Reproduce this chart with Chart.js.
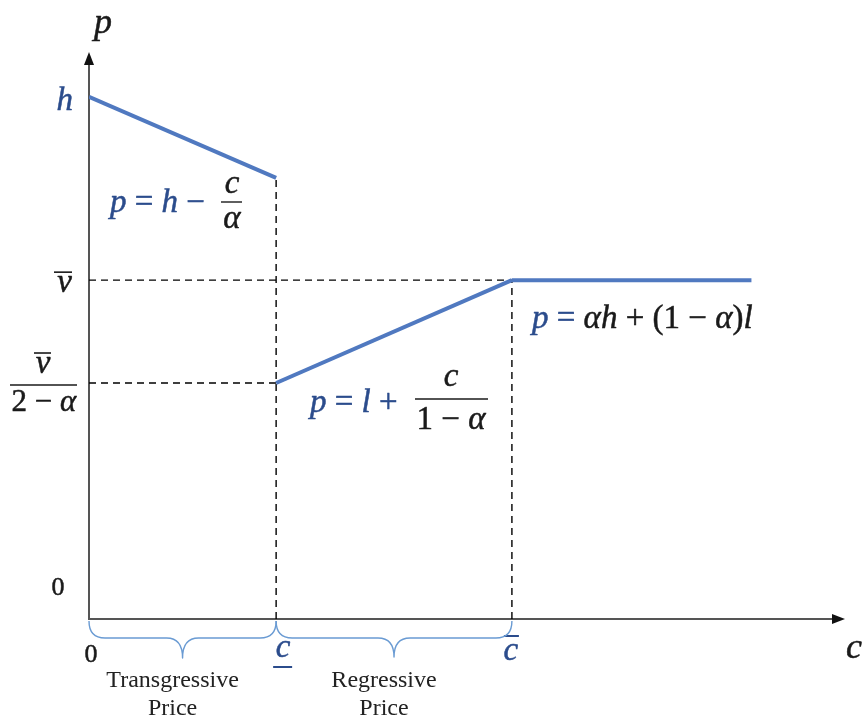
<!DOCTYPE html>
<html>
<head>
<meta charset="utf-8">
<script src="https://cdn.jsdelivr.net/npm/chart.js@4.4.1/dist/chart.umd.min.js"></script>
<style>
  html, body { margin: 0; padding: 0; background: #ffffff; }
  #wrap { width: 863px; height: 717px; }
</style>
</head>
<body>
<div id="wrap"><canvas id="chart" width="863" height="717"></canvas></div>
<script>
// Horizontal positions on the c axis
const cMarks = { zero: 0, cLow: 1.0, cHigh: 2.26, cEnd: 3.54, cAxisMax: 4.04 };
// Vertical positions on the p axis
const pMarks = { h: 10, hKink: 8.45, vBar: 6.49, vBarFrac: 4.52, pAxisMax: 10.86 };

// Price segments
const transgressiveX = [cMarks.zero, cMarks.cLow];
const transgressiveY = [pMarks.h, pMarks.hKink];
const regressiveX = [cMarks.cLow, cMarks.cHigh];
const regressiveY = [pMarks.vBarFrac, pMarks.vBar];
const flatX = [cMarks.cHigh, cMarks.cEnd];
const flatY = [pMarks.vBar, pMarks.vBar];

// Dashed guide lines
const guideVLowX = [cMarks.cLow, cMarks.cLow];
const guideVLowY = [0, pMarks.hKink];
const guideVHighX = [cMarks.cHigh, cMarks.cHigh];
const guideVHighY = [0, pMarks.vBar];
const guideHTopX = [0, cMarks.cHigh];
const guideHTopY = [pMarks.vBar, pMarks.vBar];
const guideHLowX = [0, cMarks.cLow];
const guideHLowY = [pMarks.vBarFrac, pMarks.vBarFrac];

const LINE_BLUE = '#5079C0';
const TEXT_BLUE = '#2B4C8C';
const BRACE_BLUE = '#6A9BD3';
const MATH = '"Liberation Serif", "DejaVu Serif", serif';

function pts(xs, ys) { return xs.map((x, i) => ({ x, y: ys[i] })); }

function segment(xs, ys) {
  return { data: pts(xs, ys), borderColor: LINE_BLUE, borderWidth: 4, pointRadius: 0,
           showLine: true, fill: false, borderCapStyle: 'butt', order: 1 };
}
function guide(xs, ys) {
  return { data: pts(xs, ys), borderColor: '#000000', borderWidth: 1.4, borderDash: [7, 5],
           pointRadius: 0, showLine: true, fill: false, order: 2 };
}

// Draw a run of text pieces with individual colors/styles
function runWidth(ctx, runs, size) {
  let w = 0;
  runs.forEach(r => { ctx.font = (r.it ? 'italic ' : '') + size + 'px ' + MATH; w += ctx.measureText(r.t).width; });
  return w;
}
function drawRuns(ctx, x, y, runs, size, align) {
  const w = runWidth(ctx, runs, size);
  let cx = align === 'center' ? x - w / 2 : align === 'right' ? x - w : x;
  ctx.textBaseline = 'alphabetic';
  ctx.textAlign = 'left';
  ctx.lineWidth = 0.5;
  ctx.lineJoin = 'round';
  runs.forEach(r => {
    ctx.font = (r.it ? 'italic ' : '') + size + 'px ' + MATH;
    ctx.fillStyle = r.c;
    ctx.strokeStyle = r.c;
    ctx.fillText(r.t, cx, y);
    ctx.strokeText(r.t, cx, y);
    cx += ctx.measureText(r.t).width;
  });
  return w;
}
function hline(ctx, x1, x2, y, color, w) {
  ctx.beginPath(); ctx.strokeStyle = color; ctx.lineWidth = w;
  ctx.moveTo(x1, y); ctx.lineTo(x2, y); ctx.stroke();
}
function brace(ctx, x1, x2, yTop, yMid, yTip) {
  const xm = (x1 + x2) / 2;
  const r = 16;
  ctx.beginPath();
  ctx.strokeStyle = BRACE_BLUE; ctx.lineWidth = 1.4;
  ctx.moveTo(x1, yTop);
  ctx.quadraticCurveTo(x1, yMid, x1 + r, yMid);
  ctx.lineTo(xm - r, yMid);
  ctx.quadraticCurveTo(xm, yMid, xm, yTip);
  ctx.quadraticCurveTo(xm, yMid, xm + r, yMid);
  ctx.lineTo(x2 - r, yMid);
  ctx.quadraticCurveTo(x2, yMid, x2, yTop);
  ctx.stroke();
}

const annotate = {
  id: 'annotate',
  beforeDatasetsDraw(chart) {
    const ctx = chart.ctx;
    const xs = chart.scales.x, ys = chart.scales.y;
    const x0 = xs.getPixelForValue(0), y0 = ys.getPixelForValue(0);
    const xTip = xs.getPixelForValue(cMarks.cAxisMax), yTip = ys.getPixelForValue(pMarks.pAxisMax);
    ctx.save();
    // axes
    ctx.strokeStyle = '#555555'; ctx.lineWidth = 2;
    ctx.beginPath(); ctx.moveTo(x0, y0 + 1); ctx.lineTo(x0, yTip + 8); ctx.stroke();
    ctx.beginPath(); ctx.moveTo(x0 - 1, y0); ctx.lineTo(xTip - 8, y0); ctx.stroke();
    ctx.fillStyle = '#111111';
    ctx.beginPath(); ctx.moveTo(x0, yTip); ctx.lineTo(x0 - 5, yTip + 13); ctx.lineTo(x0 + 5, yTip + 13); ctx.closePath(); ctx.fill();
    ctx.beginPath(); ctx.moveTo(xTip, y0); ctx.lineTo(xTip - 13, y0 - 5); ctx.lineTo(xTip - 13, y0 + 5); ctx.closePath(); ctx.fill();
    ctx.restore();
  },
  afterDraw(chart) {
    const ctx = chart.ctx;
    const xs = chart.scales.x, ys = chart.scales.y;
    const X = v => xs.getPixelForValue(v), Y = v => ys.getPixelForValue(v);
    const x0 = X(0), y0 = Y(0);
    ctx.save();
    const B = TEXT_BLUE, K = '#1a1a1a';
    const S = 33;

    // axis titles
    drawRuns(ctx, X(0) + 14, 33, [{ t: 'p', c: K, it: true }], 36, 'center');
    drawRuns(ctx, X(cMarks.cAxisMax) + 9, 658, [{ t: 'c', c: K, it: true }], 36, 'center');

    // p axis labels
    drawRuns(ctx, x0 - 16, Y(pMarks.h) + 13, [{ t: 'h', c: B, it: true }], S, 'right');
    drawRuns(ctx, x0 - 17, Y(pMarks.vBar) + 12, [{ t: 'v', c: K, it: true }], S, 'right');
    hline(ctx, x0 - 35, x0 - 17, Y(pMarks.vBar) - 8, K, 1.6);
    // v̄ / (2 − α)
    const fy = Y(pMarks.vBarFrac) + 2;
    const fcx = 43;
    drawRuns(ctx, fcx, fy - 12, [{ t: 'v', c: K, it: true }], S, 'center');
    hline(ctx, fcx - 9, fcx + 8, fy - 32, K, 1.6);
    hline(ctx, 10, 77, fy, K, 1.4);
    drawRuns(ctx, fcx + 1, fy + 26, [{ t: '2 − ', c: K }, { t: 'α', c: K, it: true }], 31, 'center');
    drawRuns(ctx, 58, y0 - 24, [{ t: '0', c: K }], 26, 'center');

    // c axis labels
    drawRuns(ctx, x0 + 2, 662, [{ t: '0', c: K }], 26, 'center');
    drawRuns(ctx, X(cMarks.cLow) + 7, 657, [{ t: 'c', c: B, it: true }], 33, 'center');
    hline(ctx, X(cMarks.cLow) - 3, X(cMarks.cLow) + 16, 667, B, 2);
    drawRuns(ctx, X(cMarks.cHigh) - 1, 660, [{ t: 'c', c: B, it: true }], 33, 'center');
    hline(ctx, X(cMarks.cHigh) - 8, X(cMarks.cHigh) + 7, 636, B, 2);

    // braces under the c axis
    brace(ctx, X(0), X(cMarks.cLow), y0 + 2, y0 + 19, y0 + 39);
    brace(ctx, X(cMarks.cLow), X(cMarks.cHigh), y0 + 2, y0 + 19, y0 + 38);
    ctx.font = '24px "Liberation Serif", serif';
    ctx.fillStyle = '#222222'; ctx.textAlign = 'center'; ctx.textBaseline = 'alphabetic';
    const tcx = (X(0) + X(cMarks.cLow)) / 2 - 10;
    const rcx = (X(cMarks.cLow) + X(cMarks.cHigh)) / 2 - 10;
    ctx.fillText('Transgressive', tcx, 687);
    ctx.fillText('Price', tcx, 715);
    ctx.fillText('Regressive', rcx, 687);
    ctx.fillText('Price', rcx, 715);

    // p = h − c/α
    drawRuns(ctx, 110, 212, [{ t: 'p', c: B, it: true }, { t: ' = ', c: B }, { t: 'h', c: B, it: true }, { t: ' − ', c: B }], S, 'left');
    const f1x = 232;
    drawRuns(ctx, f1x, 193, [{ t: 'c', c: K, it: true }], S, 'center');
    hline(ctx, f1x - 11, f1x + 10, 202, K, 1.4);
    drawRuns(ctx, f1x, 228, [{ t: 'α', c: K, it: true }], S, 'center');

    // p = l + c/(1 − α)
    drawRuns(ctx, 310, 412, [{ t: 'p', c: B, it: true }, { t: ' = ', c: B }, { t: 'l', c: B, it: true }, { t: ' + ', c: B }], S, 'left');
    const f2x = 451;
    drawRuns(ctx, f2x, 386, [{ t: 'c', c: K, it: true }], S, 'center');
    hline(ctx, f2x - 36, f2x + 37, 399, K, 1.4);
    drawRuns(ctx, f2x, 429, [{ t: '1 − ', c: K }, { t: 'α', c: K, it: true }], S, 'center');

    // p = αh + (1 − α)l
    drawRuns(ctx, 532, 328, [{ t: 'p', c: B, it: true }, { t: ' = ', c: B }, { t: 'αh', c: K, it: true },
      { t: ' + (1 − ', c: K }, { t: 'α', c: K, it: true }, { t: ')', c: K }, { t: 'l', c: K, it: true }], S, 'left');

    ctx.restore();
  }
};

new Chart(document.getElementById('chart'), {
  type: 'scatter',
  data: {
    datasets: [
      segment(transgressiveX, transgressiveY),
      segment(regressiveX, regressiveY),
      segment(flatX, flatY),
      guide(guideVLowX, guideVLowY),
      guide(guideVHighX, guideVHighY),
      guide(guideHTopX, guideHTopY),
      guide(guideHLowX, guideHLowY)
    ]
  },
  options: {
    responsive: false,
    animation: false,
    events: [],
    layout: { padding: { left: 89, right: 18, top: 52, bottom: 98 } },
    plugins: { legend: { display: false }, tooltip: { enabled: false } },
    scales: {
      x: { type: 'linear', min: 0, max: cMarks.cAxisMax, display: false },
      y: { type: 'linear', min: 0, max: pMarks.pAxisMax, display: false }
    }
  },
  plugins: [annotate]
});
</script>
</body>
</html>
